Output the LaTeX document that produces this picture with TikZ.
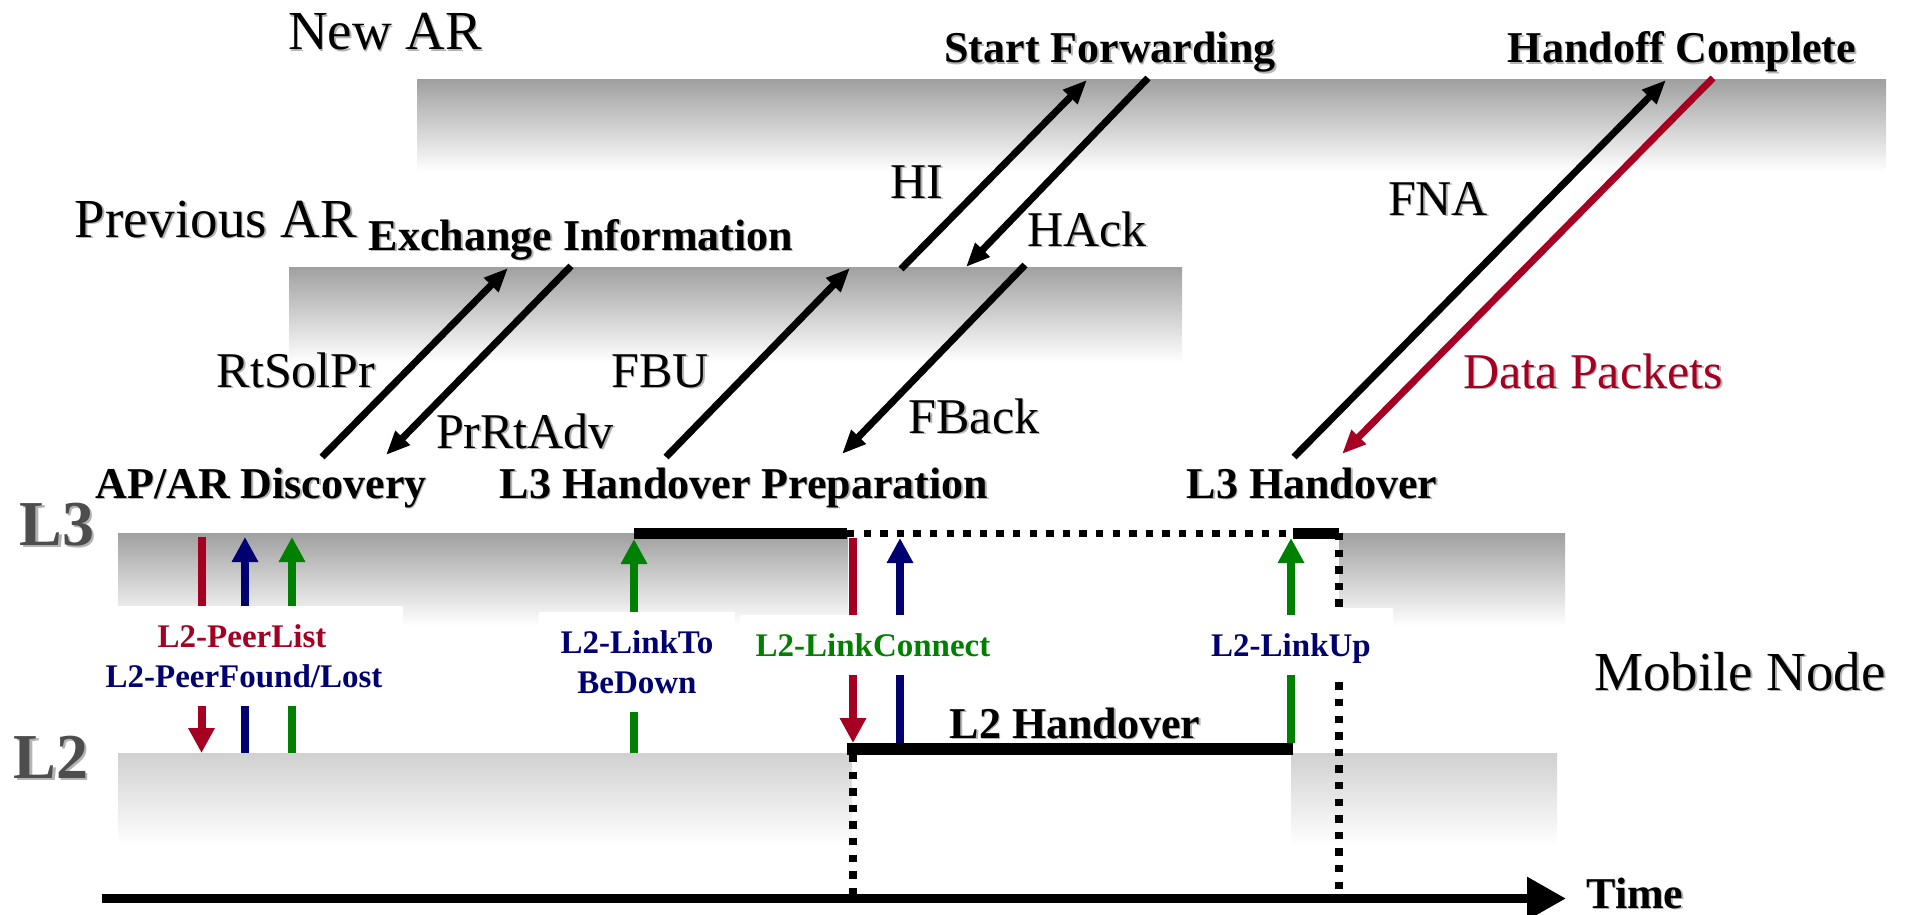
\documentclass[tikz,border=0pt]{standalone}
\usepackage{fontspec}
\setmainfont{Liberation Serif}
\usetikzlibrary{arrows.meta,fit}

\definecolor{evCrimson}{HTML}{A50021}
\definecolor{evNavy}{HTML}{000070}
\definecolor{evGreen}{HTML}{008000}
\definecolor{bandGray}{HTML}{A0A0A0}
\definecolor{bandLight}{HTML}{D0D0D0}
\definecolor{layerGray}{HTML}{4D4D4D}
\definecolor{shadowGray}{HTML}{B4B4B4}

\newcommand\fBig{\fontsize{27.5pt}{30pt}\selectfont}
\newcommand\fMsg{\fontsize{25pt}{28pt}\selectfont}
\newcommand\fPhase{\fontsize{22pt}{25pt}\selectfont\bfseries}
\newcommand\fLayer{\fontsize{32pt}{34pt}\selectfont\bfseries}
\newcommand\fEv{\fontsize{16.5pt}{19pt}\selectfont\bfseries}
% text with a soft grey drop shadow
\newcommand\withshadow[2]{\leavevmode\rlap{\kern#1\raisebox{-#1}{\color{shadowGray}#2}}#2}

\begin{document}
\begin{tikzpicture}[x=0.5pt,y=-0.5pt,
  band/.style={inner sep=0pt,outer sep=0pt,draw=none,top color=bandGray,bottom color=white},
  bandLow/.style={band,top color=bandLight,bottom color=white},
  blank/.style={inner sep=0pt,outer sep=0pt,draw=none,fill=white},
  lbl/.style={inner sep=0pt,anchor=base},
  bigtxt/.style={lbl,font=\fBig},
  msgtxt/.style={lbl,font=\fMsg},
  phase/.style={lbl,font=\fPhase},
  layer/.style={lbl,font=\fLayer,text=layerGray},
  evtxt/.style={lbl,font=\fEv},
  msg/.style={line width=3.5pt,-{Triangle[length=12pt,width=9.5pt]}},
  evline/.style={line width=4pt},
  evarrow/.style={evline,-{Triangle[length=12.5pt,width=12.5pt]}},
  bar/.style={line width=5.75pt},
  dotline/.style={line width=3.7pt,dash pattern=on 3.7pt off 4.6pt},
  timeaxis/.style={line width=4.5pt,-{Triangle[length=19.5pt,width=20.5pt]}}
]
\useasboundingbox (0,0) rectangle (1905,915);

% ---- shaded layers ----
\node[band,fit={(417,80) (1886,172)}] (arNew) {};
\node[band,fit={(289,267) (1182,362)}] (arPrev) {};
\node[band,fit={(118,533) (848,626)}] (lThreeA) {};
\node[band,fit={(1339,533) (1565,626)}] (lThreeB) {};
\node[bandLow,fit={(118,753) (852,845)}] (lTwoA) {};
\node[bandLow,fit={(1291,753) (1557,845)}] (lTwoB) {};

% ---- reference points ----
\coordinate (barStart) at (634,533.5);
\coordinate (barMidA) at (847,533.5);
\coordinate (barMidB) at (1293,533.5);
\coordinate (barEnd) at (1339,533.5);
\coordinate (lTwoBarA) at (847,749);
\coordinate (lTwoBarB) at (1293,749);
\coordinate (barTopRef) at (0,743);
\coordinate (tickA) at (853,755);
\coordinate (tickAbot) at (853,894);
\coordinate (tickB) at (1339,533);
\coordinate (tickBbot) at (1339,890);
\coordinate (tStart) at (102,898.5);
\coordinate (tEnd) at (1566,898.5);

% vertical event positions at the top of the L3 layer
\coordinate (evPL) at (201.5,537);
\coordinate (evPF) at (245,537);
\coordinate (evPG) at (292,537);
\coordinate (evLD) at (634,539);
\coordinate (evLCr) at (853,538);
\coordinate (evLCb) at (900,538);
\coordinate (evLU) at (1291,538);

% message end points
\coordinate (rtsA) at (322,457);  \coordinate (rtsB) at (508,268);
\coordinate (prA) at (571,266);   \coordinate (prB) at (386,455);
\coordinate (fbuA) at (666,457);  \coordinate (fbuB) at (850,268);
\coordinate (fbkA) at (1025,265); \coordinate (fbkB) at (842,454);
\coordinate (hiA) at (901,269);   \coordinate (hiB) at (1087,80);
\coordinate (hakA) at (1148,78);  \coordinate (hakB) at (966,267);
\coordinate (fnaA) at (1294,457); \coordinate (fnaB) at (1666,80);
\coordinate (datA) at (1713,78);  \coordinate (datB) at (1342,454);

% ---- dashed time markers ----
\draw[dotline] (tickA) -- (tickAbot);
\draw[dotline] (tickB) -- (tickBbot);

% ---- white label areas ----
\node[blank,fit={(117,606) (403,706)}] (boxPeer) {};
\node[blank,fit={(539,612) (735,712)}] (boxDown) {};
\node[blank,fit={(740,615) (1000,675)}] (boxConn) {};
\node[blank,fit={(1180,608) (1393,682)}] (boxUp) {};

% ---- handover bars ----
\draw[bar] (barStart) -- (barMidA);
\draw[dotline] (barMidA) -- (barMidB);
\draw[bar] (barMidB) -- (barEnd);
\draw[bar] (lTwoBarA) -- (lTwoBarB);
\draw[timeaxis] (tStart) -- (tEnd);

% ---- L2 events, upper halves ----
\draw[evline,evCrimson] (evPL |- boxPeer.north) -- (evPL);
\draw[evarrow,evNavy] (evPF |- boxPeer.north) -- (evPF);
\draw[evarrow,evGreen] (evPG |- boxPeer.north) -- (evPG);
\draw[evarrow,evGreen] (evLD |- boxDown.north) -- (evLD);
\draw[evline,evCrimson] (evLCr |- boxConn.north) -- (evLCr);
\draw[evarrow,evNavy] (evLCb |- boxConn.north) -- (evLCb);
\draw[evarrow,evGreen] (evLU |- boxConn.north) -- (evLU);

% ---- L2 events, lower halves ----
\draw[evarrow,evCrimson] (evPL |- boxPeer.south) -- (evPL |- lTwoA.north);
\draw[evline,evNavy] (evPF |- boxPeer.south) -- (evPF |- lTwoA.north);
\draw[evline,evGreen] (evPG |- boxPeer.south) -- (evPG |- lTwoA.north);
\draw[evline,evGreen] (evLD |- boxDown.south) -- (evLD |- lTwoA.north);
\draw[evarrow,evCrimson] (evLCr |- boxConn.south) -- (evLCr |- barTopRef);
\draw[evline,evNavy] (evLCb |- boxConn.south) -- (evLCb |- barTopRef);
\draw[evline,evGreen] (evLU |- boxConn.south) -- (evLU |- barTopRef);

% ---- messages ----
\draw[msg] (rtsA) -- (rtsB);
\draw[msg] (prA) -- (prB);
\draw[msg] (fbuA) -- (fbuB);
\draw[msg] (fbkA) -- (fbkB);
\draw[msg] (hiA) -- (hiB);
\draw[msg] (hakA) -- (hakB);
\draw[msg] (fnaA) -- (fnaB);
\draw[msg,evCrimson] (datA) -- (datB);

% ---- entity and layer names ----
\node[bigtxt] (tNewAR) at (385,50) {\withshadow{0.8pt}{New AR}};
\node[bigtxt] (tPrevAR) at (216,237) {\withshadow{0.8pt}{Previous AR}};
\node[bigtxt] (tMN) at (1740,690) {\withshadow{0.8pt}{Mobile Node}};
\node[layer] (tL3) at (57,545) {\withshadow{1.3pt}{L3}};
\node[layer] (tL2) at (51,778) {\withshadow{1.3pt}{L2}};

% ---- phase names ----
\node[phase] (tStartFwd) at (1110,63) {\withshadow{0.7pt}{Start Forwarding}};
\node[phase] (tDone) at (1682,63) {\withshadow{0.7pt}{Handoff Complete}};
\node[phase] (tExch) at (581,250) {\withshadow{0.7pt}{Exchange Information}};
\node[phase] (tDisc) at (261,498) {\withshadow{0.7pt}{AP/AR Discovery}};
\node[phase] (tPrep) at (744,498) {\withshadow{0.7pt}{L3 Handover Preparation}};
\node[phase] (tLThree) at (1312,498) {\withshadow{0.7pt}{L3 Handover}};
\node[phase] (tLTwo) at (1075,738) {\withshadow{0.7pt}{L2 Handover}};
\node[phase] (tTime) at (1635,908) {\withshadow{0.7pt}{Time}};

% ---- message names ----
\node[msgtxt] (tRts) at (296,387) {\withshadow{0.8pt}{RtSolPr}};
\node[msgtxt] (tPr) at (525,448) {\withshadow{0.8pt}{PrRtAdv}};
\node[msgtxt] (tFbu) at (660,387) {\withshadow{0.8pt}{FBU}};
\node[msgtxt] (tFbk) at (974,433) {\withshadow{0.8pt}{FBack}};
\node[msgtxt] (tHi) at (917,198) {\withshadow{0.8pt}{HI}};
\node[msgtxt] (tHak) at (1087,246) {\withshadow{0.8pt}{HAck}};
\node[msgtxt] (tFna) at (1438,215) {\withshadow{0.8pt}{FNA}};
\node[msgtxt,text=evCrimson] (tData) at (1593,388) {\withshadow{0.8pt}{Data Packets}};

% ---- L2 event names ----
\node[evtxt,text=evCrimson] (tPeerList) at (242,647) {L2-PeerList};
\node[evtxt,text=evNavy] (tPeerFound) at (244,687) {L2-PeerFound/Lost};
\node[evtxt,text=evNavy] (tLinkTo) at (637,653) {L2-LinkTo};
\node[evtxt,text=evNavy] (tBeDown) at (637,693) {BeDown};
\node[evtxt,text=evGreen] (tConnect) at (873,656) {L2-LinkConnect};
\node[evtxt,text=evNavy] (tLinkUp) at (1291,656) {L2-LinkUp};
\end{tikzpicture}
\end{document}
